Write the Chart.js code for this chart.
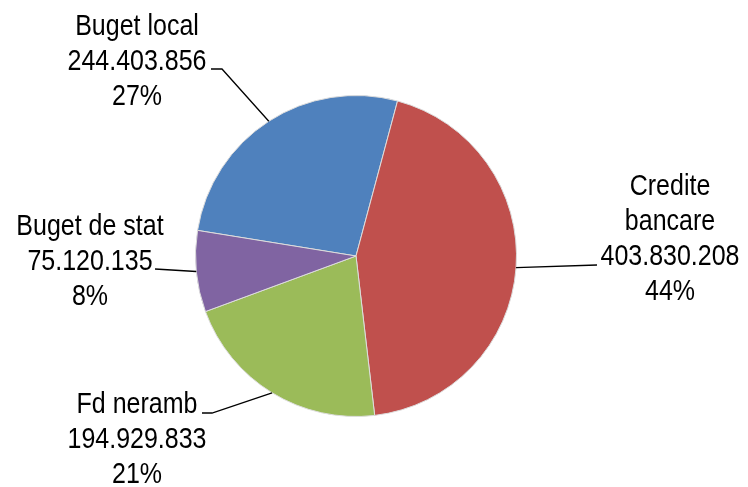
<!DOCTYPE html>
<html>
<head>
<meta charset="utf-8">
<script src="https://cdn.jsdelivr.net/npm/chart.js@4.4.1/dist/chart.umd.min.js"></script>
<style>
  html, body { margin: 0; padding: 0; background: #fff; }
  #wrap { width: 748px; height: 487px; }
</style>
</head>
<body>
<div id="wrap"><canvas id="mycanvas" width="748" height="487"></canvas></div>
<script>
// categories and values (lei)
var categories = ["Buget local", "Credite bancare", "Fd neramb", "Buget de stat"];
var values = [244403856, 403830208, 194929833, 75120135];
var colors = ["#4F81BD", "#C0504D", "#9BBB59", "#8064A2"];

var total = values.reduce(function(a, b){ return a + b; }, 0);

function fmt(n) {
	return String(n).replace(/\B(?=(\d{3})+(?!\d))/g, ".");
}

// where each label sits and where its leader line starts
var labelLayout = [
	{ x: 137, y: 35,  lines: ["Buget local"],        stub: [[211, 69], [222, 69]] },
	{ x: 670, y: 195, lines: ["Credite", "bancare"], stub: [[597, 265]] },
	{ x: 137, y: 413, lines: ["Fd neramb"],          stub: [[202, 413], [212, 413]] },
	{ x: 90,  y: 235, lines: ["Buget de stat"],      stub: [[155, 269]] }
];

var labelPlugin = {
	id: "pieLabels",
	afterDatasetsDraw: function(chart) {
		var ctx = chart.ctx;
		var meta = chart.getDatasetMeta(0);
		ctx.save();
		meta.data.forEach(function(arc, i) {
			var p = arc.getProps(["x", "y", "startAngle", "endAngle", "outerRadius"], true);
			var mid = (p.startAngle + p.endAngle) / 2;
			var ex = p.x + Math.cos(mid) * p.outerRadius;
			var ey = p.y + Math.sin(mid) * p.outerRadius;
			var lay = labelLayout[i];

			ctx.strokeStyle = "#000";
			ctx.lineWidth = 1.3;
			ctx.beginPath();
			ctx.moveTo(lay.stub[0][0], lay.stub[0][1]);
			for (var k = 1; k < lay.stub.length; k++) ctx.lineTo(lay.stub[k][0], lay.stub[k][1]);
			ctx.lineTo(ex, ey);
			ctx.stroke();

			var pct = Math.round(values[i] / total * 100) + "%";
			var txt = lay.lines.concat([fmt(values[i]), pct]);
			ctx.fillStyle = "#000";
			ctx.font = "25px 'Liberation Sans', Arial, sans-serif";
			ctx.textAlign = "center";
			ctx.textBaseline = "alphabetic";
			txt.forEach(function(s, j) {
				ctx.save();
				ctx.translate(lay.x, lay.y + j * 35);
				ctx.scale(1, 1.2);
				ctx.fillText(s, 0, 0);
				ctx.restore();
			});
		});
		ctx.restore();
	}
};

var ctx = document.getElementById("mycanvas");

var PieGraph = new Chart(ctx, {
	type: "pie",
	data: {
		labels: categories,
		datasets: [{
			data: values,
			backgroundColor: colors,
			borderColor: "#dcdcdc",
			borderWidth: 1
		}]
	},
	options: {
		responsive: false,
		animation: false,
		rotation: 15 - values[0] / total * 360,
		layout: { padding: { top: 95, bottom: 70, left: 195, right: 231 } },
		plugins: {
			legend: { display: false },
			tooltip: { enabled: false }
		}
	},
	plugins: [labelPlugin]
});
</script>
</body>
</html>
